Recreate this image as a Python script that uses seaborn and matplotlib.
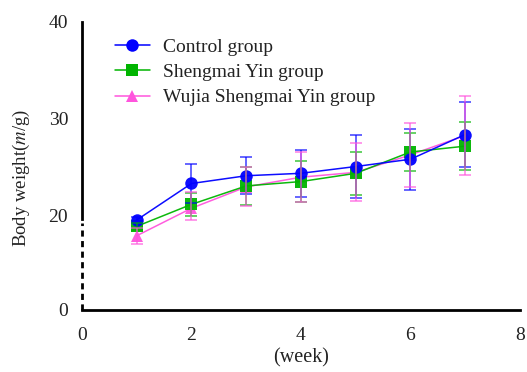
import numpy as np
import pandas as pd
import matplotlib
matplotlib.use('Agg')
import matplotlib.pyplot as plt
import seaborn as sns

weeks = [1, 2, 3, 4, 5, 6, 7]
groups = ['Control group', 'Shengmai Yin group', 'Wujia Shengmai Yin group']
control_mean = [19.15, 23.35, 24.15, 24.4, 25.1, 25.85, 28.4]
control_sd = [0.6, 2.0, 1.9, 2.45, 3.2, 3.15, 3.4]
shengmai_mean = [17.8, 21.2, 23.1, 23.55, 24.4, 26.6, 27.2]
shengmai_sd = [0.8, 1.15, 2.0, 2.1, 2.2, 2.0, 2.5]
wujia_mean = [15.8, 20.8, 23.0, 24.0, 24.5, 26.3, 28.3]
wujia_sd = [1.75, 1.7, 2.0, 2.6, 3.0, 3.3, 4.1]

colors = ['#0000ff', '#00b400', '#ff55dd']
markers = ['o', 's', '^']

df = pd.DataFrame({
    'week': weeks * 3,
    'weight': control_mean + shengmai_mean + wujia_mean,
    'sd': control_sd + shengmai_sd + wujia_sd,
    'group': [g for g in groups for _ in weeks],
})

sns.set_style('white')
plt.rcParams['font.family'] = ['Liberation Serif', 'DejaVu Serif']
plt.rcParams['mathtext.fontset'] = 'stix'

# broken y axis: 0-20 squeezed into about one 10-unit step
k = 0.4845
def fwd(y):
    y = np.asarray(y, dtype=float)
    return np.where(y >= 20, y, 20 - (20 - y) * k)
def inv(v):
    v = np.asarray(v, dtype=float)
    return np.where(v >= 20, v, 20 - (20 - v) / k)

fig, ax = plt.subplots(figsize=(5.27, 3.72), dpi=100)
plt.subplots_adjust(left=0.1556, right=0.9867, bottom=0.1667, top=0.9409)
ax.set_yscale('function', functions=(fwd, inv))

sns.lineplot(data=df, x='week', y='weight', hue='group', style='group',
             palette=colors, markers=markers, dashes=False, markersize=9,
             markeredgewidth=0, linewidth=1.1, ax=ax)
# control on top, then Shengmai, then Wujia
for line, z in zip(ax.lines[:3], [5, 4, 3]):
    line.set_zorder(z)
    line.set_alpha(0.95)

for g, c in zip(groups, colors):
    d = df[df['group'] == g]
    ax.errorbar(d['week'], d['weight'], yerr=d['sd'], fmt='none', ecolor=c,
                elinewidth=1.2, capsize=4.3, capthick=1.2, alpha=0.7, zorder=6)

ax.set_xlim(0, 8)
ax.set_ylim(0, 40)
ax.set_xticks([0, 2, 4, 6, 8])
ax.set_yticks([0, 20, 30, 40])
ax.tick_params(direction='in', length=6, width=2, labelsize=14, pad=10,
               labelcolor='#222222')
ax.tick_params(axis='x', pad=12)
for s in ['top', 'right']:
    ax.spines[s].set_visible(False)
for s in ['left', 'bottom']:
    ax.spines[s].set_linewidth(2)
    ax.spines[s].set_color('black')
ax.spines['left'].set_bounds(19.4, 40)
ax.plot([0, 0], [0, 18.6], ls=(0, (2.2, 1.6)), color='black', lw=2,
        clip_on=False, zorder=7)

ax.set_xlabel('(week)', fontsize=14.5, color='#222222')
ax.set_ylabel('Body weight($m$/g)', fontsize=13.5, color='#222222')
ax.xaxis.set_label_coords(0.5, -0.132)
ax.yaxis.set_label_coords(-0.114, 0.458)

leg = ax.legend(loc='upper left', bbox_to_anchor=(0.035, 1.005), frameon=False,
                fontsize=14, handlelength=1.8, handletextpad=0.7,
                labelspacing=0.4)
for t in leg.get_texts():
    t.set_color('#222222')

fig.savefig('out.png', dpi=100)
